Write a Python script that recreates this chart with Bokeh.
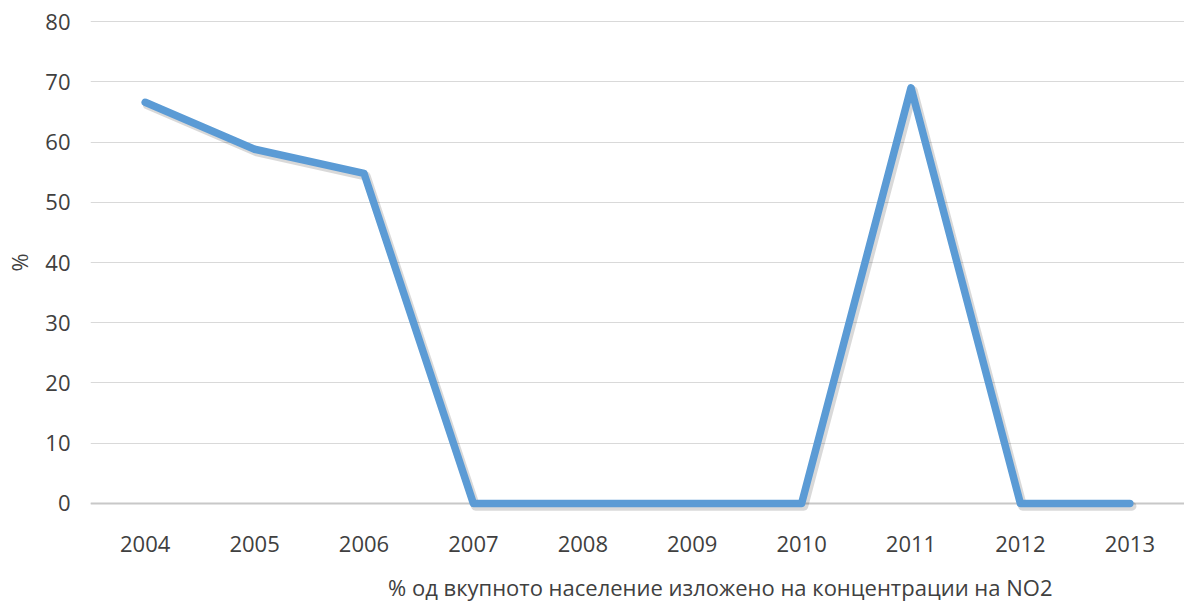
from bokeh.plotting import figure
from bokeh.layouts import column
from bokeh.models import FixedTicker, Range1d, Span, Legend, LegendItem, ColumnDataSource
from bokeh.transform import dodge
from bokeh.embed import file_html
from bokeh.resources import INLINE

years = ["2004", "2005", "2006", "2007", "2008", "2009", "2010", "2011", "2012", "2013"]
values = [66.6, 58.8, 54.8, 0, 0, 0, 0, 69.0, 0, 0]
series_name = "% од вкупното население изложено на концентрации на NO2"
y_ticks = [0, 10, 20, 30, 40, 50, 60, 70, 80]

FONT = "Open Sans"
TXT = "#404040"
BLUE = "#5B9BD5"

p = figure(x_range=years, y_range=Range1d(-2, 82), width=1184, height=565,
           output_backend="svg", toolbar_location=None,
           min_border_left=90, min_border_top=9, min_border_bottom=50, min_border_right=0)
p.x_range.range_padding = 0
p.outline_line_color = None
p.background_fill_color = "white"
p.border_fill_color = "white"

src = ColumnDataSource(dict(x=years, y=values))

# soft shadow
p.line(x=dodge("x", 0.02, range=p.x_range), y=dodge("y", -0.45), source=src,
       line_color="black", line_alpha=0.15, line_width=9, line_join="round", line_cap="round")
p.line(x="x", y="y", source=src, line_color=BLUE, line_width=7.5,
       line_join="round", line_cap="round")

p.add_layout(Span(location=0, dimension="width", line_color="#C8C8C8", line_width=2, level="underlay"))

p.yaxis.ticker = FixedTicker(ticks=y_ticks)
p.yaxis.axis_line_color = None
p.yaxis.major_tick_line_color = None
p.yaxis.minor_tick_line_color = None
p.yaxis.major_tick_out = 0
p.yaxis.major_label_standoff = 20
p.yaxis.major_label_text_font = FONT
p.yaxis.major_label_text_font_size = "22px"
p.yaxis.major_label_text_color = TXT
p.yaxis.axis_label = "%"
p.yaxis.axis_label_text_font = FONT
p.yaxis.axis_label_text_font_size = "22px"
p.yaxis.axis_label_text_font_style = "normal"
p.yaxis.axis_label_text_color = TXT
p.yaxis.axis_label_standoff = 8

p.xaxis.axis_line_color = None
p.xaxis.major_tick_line_color = None
p.xaxis.minor_tick_line_color = None
p.xaxis.major_tick_out = 0
p.xaxis.major_label_standoff = 20
p.xaxis.major_label_text_font = FONT
p.xaxis.major_label_text_font_size = "22px"
p.xaxis.major_label_text_color = TXT

p.xgrid.grid_line_color = None
p.ygrid.grid_line_color = "#D9D9D9"
p.ygrid.grid_line_width = 1

# legend strip below the chart
p2 = figure(width=1184, height=41, x_range=Range1d(0, 1), y_range=Range1d(0, 1),
            output_backend="svg", toolbar_location=None,
            x_axis_type=None, y_axis_type=None,
            min_border_left=0, min_border_right=0, min_border_top=0, min_border_bottom=0)
p2.outline_line_color = None
p2.background_fill_color = "white"
p2.border_fill_color = "white"
proxy = p2.line(x=[], y=[], line_color=BLUE, line_width=7.5, line_cap="round")

legend = Legend(items=[LegendItem(label=series_name, renderers=[proxy])],
                location=(236, 4), orientation="horizontal",
                glyph_width=60, glyph_height=20, label_height=20, label_standoff=2,
                padding=0, margin=0, border_line_color=None, background_fill_alpha=0,
                label_text_font=FONT, label_text_font_size="22px", label_text_color=TXT)
p2.add_layout(legend, "center")

layout = column(p, p2, spacing=0)
open("out.html", "w").write(file_html(layout, INLINE))
